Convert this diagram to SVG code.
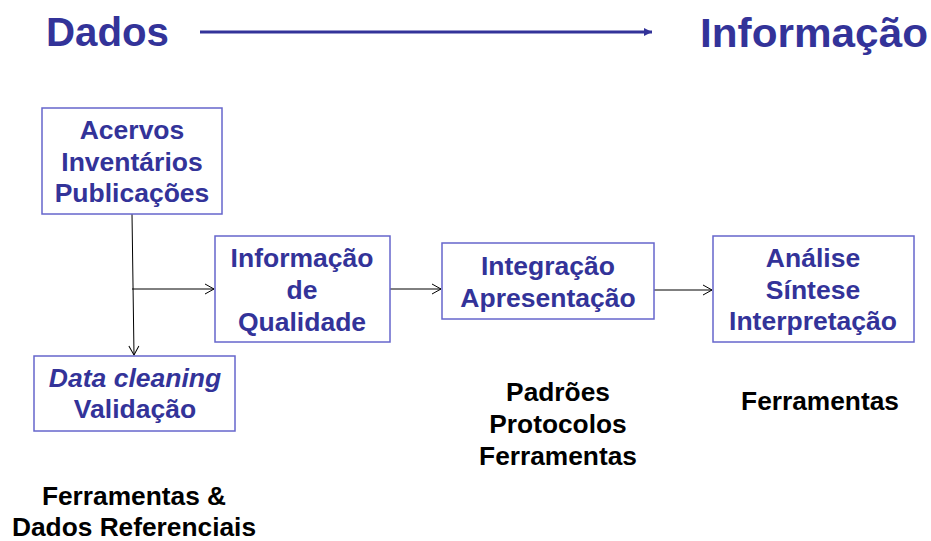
<svg xmlns="http://www.w3.org/2000/svg" width="931" height="541" viewBox="0 0 931 541">
<style>
.t{font-family:"Liberation Sans",Arial,sans-serif;font-weight:bold;font-size:26.5px;fill:#333399;text-anchor:middle}
.k{font-family:"Liberation Sans",Arial,sans-serif;font-weight:bold;font-size:26.3px;fill:#000;text-anchor:middle}
.h{font-family:"Liberation Sans",Arial,sans-serif;font-weight:bold;font-size:41px;fill:#333399}
.box{fill:#fff;stroke:#6666cc;stroke-width:1.5}
.c{stroke:#000;stroke-width:1;fill:none}
</style>
<defs>
<marker id="a" markerWidth="12" markerHeight="12" refX="10" refY="6" orient="auto" markerUnits="userSpaceOnUse">
<path d="M1,1 L10,6 L1,11" fill="none" stroke="#000" stroke-width="1"/>
</marker>
<marker id="b" markerWidth="10" markerHeight="10" refX="8" refY="5" orient="auto" markerUnits="userSpaceOnUse">
<path d="M0,1 L8,5 L0,9 Z" fill="#333399"/>
</marker>
</defs>
<g id="title">
<text class="h" x="46" y="46" textLength="123" lengthAdjust="spacingAndGlyphs">Dados</text>
<line x1="200" y1="32" x2="652" y2="32" stroke="#333399" stroke-width="3" marker-end="url(#b)"/>
<text class="h" x="700" y="47" textLength="228" lengthAdjust="spacingAndGlyphs">Informação</text>
</g>
<g id="connectors">
<line class="c" x1="132" y1="214" x2="134" y2="355" marker-end="url(#a)"/>
<line class="c" x1="132" y1="289" x2="214" y2="289" marker-end="url(#a)"/>
<line class="c" x1="390" y1="289" x2="441" y2="289" marker-end="url(#a)"/>
<line class="c" x1="654" y1="290" x2="712" y2="290" marker-end="url(#a)"/>
</g>
<g id="acervos">
<rect class="box" x="42" y="108" width="180" height="106"/>
<text class="t" x="132" y="139">Acervos</text>
<text class="t" x="132" y="171">Inventários</text>
<text class="t" x="132" y="202">Publicações</text>
</g>
<g id="informacao">
<rect class="box" x="215" y="236" width="175" height="106"/>
<text class="t" x="302" y="267">Informação</text>
<text class="t" x="302" y="299">de</text>
<text class="t" x="302" y="331">Qualidade</text>
</g>
<g id="cleaning">
<rect class="box" x="34" y="356" width="201" height="75"/>
<text class="t" x="135" y="387" font-style="italic">Data cleaning</text>
<text class="t" x="135" y="418">Validação</text>
</g>
<g id="integracao">
<rect class="box" x="442" y="243" width="212" height="76"/>
<text class="t" x="548" y="275">Integração</text>
<text class="t" x="548" y="307">Apresentação</text>
</g>
<g id="analise">
<rect class="box" x="713" y="236" width="201" height="106"/>
<text class="t" x="813" y="267">Análise</text>
<text class="t" x="813" y="299">Síntese</text>
<text class="t" x="813" y="330">Interpretação</text>
</g>
<g id="labels">
<text class="k" x="558" y="401">Padrões</text>
<text class="k" x="558" y="433">Protocolos</text>
<text class="k" x="558" y="465">Ferramentas</text>
<text class="k" x="820" y="410">Ferramentas</text>
<text class="k" x="134" y="505">Ferramentas &amp;</text>
<text class="k" x="134" y="536">Dados Referenciais</text>
</g>
</svg>
